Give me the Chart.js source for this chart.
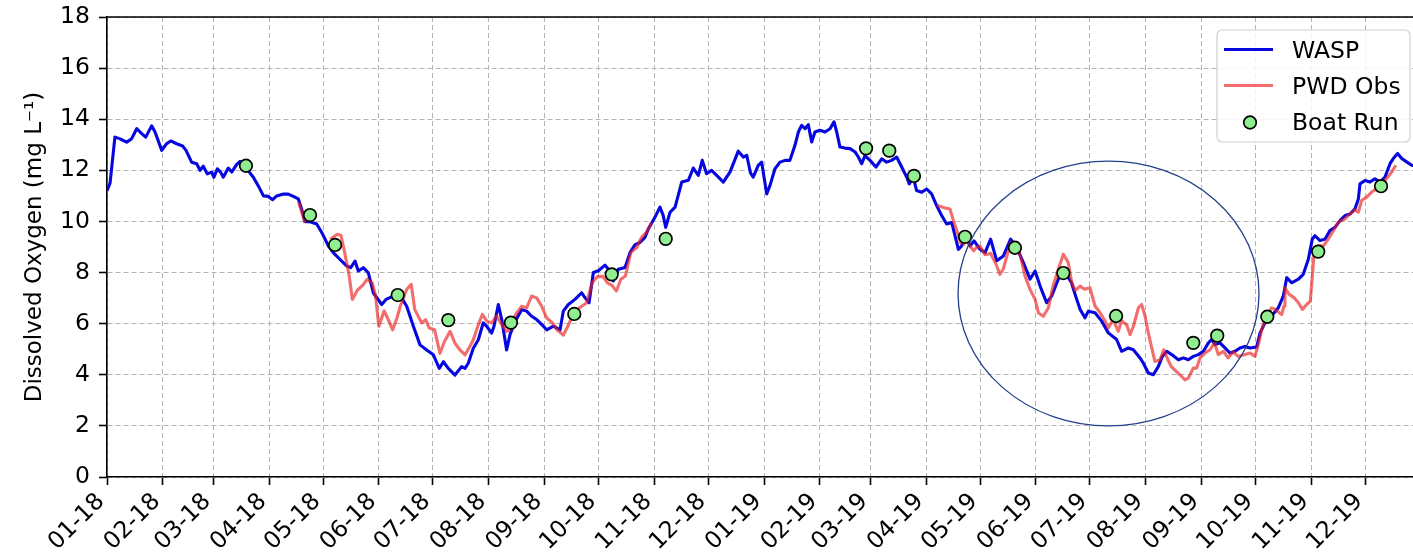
<!DOCTYPE html>
<html>
<head>
<meta charset="utf-8">
<title>Dissolved Oxygen 2018-2019</title>
<script src="https://cdn.jsdelivr.net/npm/chart.js@4/dist/chart.umd.min.js"></script>
<style>
  html, body { margin: 0; padding: 0; background: #ffffff; overflow: hidden; }
  #wrap { width: 1430px; height: 554px; }
</style>
</head>
<body>
<div id="wrap"><canvas id="c" width="1430" height="554"></canvas></div>
<script>
// x values are days counted from 1 Jan 2018
const monthDays = [0, 31, 59, 90, 120, 151, 181, 212, 243, 273, 304, 334,
                   365, 396, 424, 455, 485, 516, 546, 577, 608, 638, 669, 699];
const monthLabels = ['01-18', '02-18', '03-18', '04-18', '05-18', '06-18',
                     '07-18', '08-18', '09-18', '10-18', '11-18', '12-18',
                     '01-19', '02-19', '03-19', '04-19', '05-19', '06-19',
                     '07-19', '08-19', '09-19', '10-19', '11-19', '12-19'];
const yTicks = [0, 2, 4, 6, 8, 10, 12, 14, 16, 18];

// modelled dissolved oxygen (mg/L), [day, value]
const waspDO = [
  [0,11.2],[1.7,11.5],[4.4,13.3],[7,13.24],[10.9,13.1],[13.7,13.24],[16.5,13.63],[19.3,13.44],
  [21.5,13.3],[24.8,13.74],[26.7,13.5],[30.4,12.78],[33.1,13.04],[35.4,13.15],[38.7,13.04],
  [42,12.95],[43.9,12.78],[47,12.32],[49.8,12.26],[51.7,12.0],[53.5,12.16],[55.7,11.86],
  [58.1,11.93],[59.4,11.73],[61.3,12.06],[63.1,11.93],[64.6,11.73],[67.4,12.09],[69.3,11.93],
  [72,12.22],[73.9,12.35],[77.6,12.06],[81.3,11.73],[84,11.4],[86.9,11.0],[89.6,10.98],
  [92,10.85],[94.3,11.0],[98,11.07],[100.7,11.07],[103.5,10.98],[106.3,10.88],[108.1,10.49],
  [110,9.99],[112.8,9.99],[116.5,9.9],[119.3,9.57],[123,9.04],[125.7,8.78],[128.5,8.58],
  [133.1,8.26],[135.4,8.19],[137.8,8.45],[139.6,8.06],[142.4,8.19],[145.2,7.99],[148,7.2],
  [152.6,6.75],[155,6.95],[159,7.08],[163.7,7.01],[166.5,6.68],[170.2,5.9],[173.9,5.17],
  [177.6,4.97],[181.3,4.78],[184.6,4.25],[186.9,4.51],[189.6,4.25],[193.3,3.99],[197,4.32],
  [198.9,4.25],[200.7,4.45],[203.5,5.04],[206.3,5.37],[209,6.03],[210.9,5.9],[213.7,5.63],
  [215,5.9],[217.4,6.75],[219.3,6.16],[222,4.97],[223.9,5.57],[226.7,6.09],[230.4,6.55],
  [233.1,6.49],[235.9,6.29],[238.7,6.16],[242.4,5.9],[244.3,5.76],[248,5.9],[251.7,5.76],
  [253.5,6.49],[256.3,6.75],[260,6.95],[263.7,7.21],[265.5,7.02],[267.8,6.82],[270.2,8.0],
  [273,8.07],[276.7,8.29],[278.5,8.13],[281.3,7.67],[284.1,8.13],[287.8,8.2],[290.6,8.79],
  [293.3,9.08],[296.1,9.18],[298.9,9.38],[300.7,9.7],[304.4,10.16],[307.2,10.56],[309,10.23],
  [310.4,9.77],[312.8,10.36],[315.6,10.56],[319.3,11.54],[323,11.61],[325.7,12.09],[328.5,11.8],
  [330.7,12.39],[333.1,11.87],[335.9,12.0],[338.7,11.8],[342.4,11.54],[346.1,11.93],[350.7,12.75],
  [353.5,12.52],[355.4,12.59],[357.5,11.9],[359,11.73],[361.8,12.19],[363.7,12.32],[366.5,11.08],
  [368.3,11.4],[371.1,12.06],[373.9,12.32],[376.7,12.39],[379.4,12.39],[382.2,12.98],[384.1,13.5],
  [385.9,13.76],[387.8,13.63],[389.6,13.79],[391.5,13.11],[393.3,13.5],[396.1,13.57],[398.9,13.5],
  [401.7,13.63],[403.9,13.9],[405.4,13.5],[407.2,12.91],[410,12.87],[412.8,12.85],[415.6,12.72],
  [417.4,12.52],[419.3,12.26],[421.1,12.58],[423.9,12.39],[427.2,12.13],[430.4,12.45],[433.1,12.32],
  [435.9,12.39],[438.7,12.52],[441.5,12.13],[444.3,11.73],[445.7,11.47],[447.9,11.73],[449.8,11.21],
  [452.6,11.14],[455.4,11.27],[458.1,11.08],[460.9,10.62],[463.7,10.23],[466.5,9.9],[469.3,9.96],
  [471.1,9.44],[473,8.91],[474.8,9.04],[476.7,9.5],[479.4,9.04],[481.7,9.24],[485,8.91],
  [487.8,8.78],[490.9,9.31],[494.3,8.46],[498,8.65],[502,9.31],[505.4,8.98],[509.1,8.39],
  [512.8,7.74],[515.6,8.06],[518.4,7.47],[522,6.82],[524.8,7.08],[528.5,7.74],[531.3,8.06],
  [534.1,7.8],[535.8,7.6],[538.5,7.0],[540.6,6.56],[543.3,6.23],[545.2,6.49],[548.9,6.43],
  [552.6,6.1],[556.3,5.64],[560.9,5.38],[563.7,4.92],[567.4,5.05],[570.2,4.98],[573.9,4.66],
  [575.7,4.46],[578.5,4.07],[581.3,4.0],[584.1,4.33],[586.3,4.72],[588.7,4.92],[591.5,4.79],
  [595.2,4.59],[598,4.66],[600.7,4.59],[603.5,4.72],[606.3,4.79],[609.1,4.92],[611.9,5.25],
  [613.7,5.38],[615.6,5.18],[618.3,5.25],[621.1,5.05],[623.9,4.85],[626.7,4.92],[629.4,5.05],
  [632.2,5.11],[635,5.05],[638.7,5.09],[640.6,5.64],[643.3,6.03],[647,6.3],[650.7,6.62],
  [653.5,7.08],[655.4,7.8],[658.1,7.6],[661.9,7.74],[664.6,7.93],[667.4,8.52],[669.6,9.31],
  [671.1,9.44],[673.9,9.25],[676.7,9.31],[679.4,9.64],[682.2,9.77],[685,10.03],[687.8,10.23],
  [690.6,10.29],[693.3,10.49],[695.2,10.88],[696.1,11.47],[698.9,11.6],[701.7,11.54],[704.4,11.67],
  [707.2,11.54],[710,11.74],[712.8,12.26],[714.6,12.46],[717,12.66],[719.3,12.46],[722,12.33],
  [724.8,12.2],[729,12.15]
];

// PWD observed dissolved oxygen (mg/L), [day, value]; null marks a break in the record
const pwdDO = [
  [106.5,10.75],[108.5,10.3],[110,9.95],[112,null],
  [124,9.3],[128,9.5],[130,9.45],[132,8.8],[134.5,7.9],[136.3,6.95],[139,7.3],[142,7.5],
  [144.6,7.74],[147.3,7.6],[149.2,7.1],[151,5.9],[154,6.5],[156,6.2],[158.7,5.76],[161,6.2],
  [163,6.7],[166.5,7.34],[169,7.54],[171,6.55],[174.8,6.03],[177,6.16],[179,5.83],[182,5.76],
  [185,4.84],[187.5,5.3],[190.6,5.7],[193.3,5.24],[196.1,4.97],[198.9,4.78],[201.5,5.1],
  [203.5,5.37],[206,5.9],[208.5,6.36],[211,6.1],[213.7,6.03],[216.5,6.3],[219.3,5.96],[222,5.7],
  [224.5,5.8],[227,6.36],[230.4,6.68],[233.1,6.62],[235.9,7.08],[238.7,7.01],[241.5,6.68],
  [244.3,6.22],[247.5,6.03],[250,5.76],[253.5,5.55],[256,5.9],[259,6.35],[262.5,6.62],
  [266.5,6.82],[269.5,7.6],[272.4,7.84],[275.5,7.85],[278,7.6],[280.5,7.5],[283,7.28],
  [285.5,7.74],[288,7.87],[291,8.79],[294.3,8.98],[297,9.38],[300,9.6],[302.5,9.95],[380,null],
  [461,10.64],[464.5,10.55],[468.3,10.49],[470,10.09],[472.2,9.63],[474,9.18],[476,9.11],
  [477.5,9.37],[479.4,9.04],[481.5,8.85],[483,8.98],[485,9.04],[487.8,8.7],[490.9,8.75],
  [494.3,8.26],[496,7.93],[498,8.15],[502,9.18],[505.4,9.05],[507,8.78],[510,7.87],[512.8,7.34],
  [515.6,6.95],[517.5,6.42],[520.2,6.29],[523,6.62],[525.6,7.47],[528.5,8.13],[531.3,8.72],
  [534,8.39],[536,7.6],[538,7.3],[540.6,7.47],[543,7.35],[546.1,7.41],[548.9,6.69],[551.7,6.43],
  [554.5,6.1],[556.3,5.83],[559,6.16],[561.8,5.7],[563.7,6.1],[566.5,5.96],[568.4,5.57],
  [570.2,5.9],[573,6.62],[574.8,6.75],[576.7,6.3],[578.5,5.64],[580.4,5.05],[582.2,4.52],
  [585,4.59],[587.1,4.98],[589.4,4.59],[591.2,4.33],[593,4.2],[596.1,4.0],[598.9,3.8],
  [600.7,3.87],[603.5,4.26],[605.4,4.26],[607.2,4.66],[610,4.85],[612.8,4.98],[615.2,5.25],
  [617.4,4.79],[620.2,4.92],[622.8,4.66],[625.6,4.9],[628.4,4.72],[632.2,4.79],[635,4.85],
  [637.8,4.72],[639.6,5.18],[641.5,5.77],[644.3,6.3],[647,6.62],[648.9,6.56],[652.6,6.36],
  [653.9,6.69],[654.4,7.41],[656.7,7.15],[659.4,7.02],[661.9,6.82],[664.1,6.56],[666.5,6.75],
  [668.5,6.88],[669.8,8.0],[670.7,8.92],[673,9.05],[675.8,9.05],[678.5,9.31],[681.3,9.64],
  [684.1,9.97],[687.8,10.1],[690.6,10.3],[693.3,10.45],[695.2,10.36],[697,10.82],[699.8,10.95],
  [702.6,11.15],[705.4,11.28],[707.2,11.41],[710,11.6],[713.7,11.93],[716,12.2]
];

// boat run grab samples (mg/L), [day, value]
const boatRun = [
  [77.2,12.18],[112.8,10.25],[126.7,9.08],[161.5,7.12],[189.6,6.14],[224.4,6.04],[259.6,6.38],
  [280.4,7.93],[310.4,9.32],[421.7,12.86],[434.6,12.77],[448.3,11.78],[476.7,9.4],[504.4,8.97],
  [531.3,7.98],[560.6,6.3],[603.5,5.25],[616.8,5.53],[644.6,6.27],[672.9,8.82],[707.8,11.38]
];

// highlighted low-oxygen period, in axis units: centre day / value and half extents
const highlight = { day: 556.4, value: 7.18, halfDays: 83.6, halfValue: 5.18 };

const FONT = 'DejaVu Sans';
const toPoints = arr => arr.map(([x, y]) => ({ x, y }));

const BLUE = '#0606e0';
const RED = 'rgba(236, 30, 30, 0.65)';
const GREEN = '#90ee90';
const LINE_W = 3.1;

// frame line along the top of the plot area
const topSpine = {
  id: 'topSpine',
  afterDraw(chart) {
    const { ctx, chartArea } = chart;
    ctx.save();
    ctx.strokeStyle = '#000';
    ctx.lineWidth = 1.6;
    ctx.beginPath();
    ctx.moveTo(chartArea.left - 0.8, chartArea.top);
    ctx.lineTo(chartArea.right + 0.8, chartArea.top);
    ctx.stroke();
    ctx.restore();
  }
};

// ellipse around the summer 2019 period, placed through the scales
const highlightEllipse = {
  id: 'highlightEllipse',
  afterDatasetsDraw(chart) {
    const { ctx, scales: { x, y } } = chart;
    const cx = x.getPixelForValue(highlight.day);
    const cy = y.getPixelForValue(highlight.value);
    const rx = Math.abs(x.getPixelForValue(highlight.day + highlight.halfDays) - cx);
    const ry = Math.abs(y.getPixelForValue(highlight.value + highlight.halfValue) - cy);
    ctx.save();
    ctx.strokeStyle = '#233f8c';
    ctx.lineWidth = 1.3;
    ctx.beginPath();
    ctx.ellipse(cx, cy, rx, ry, 0, 0, Math.PI * 2);
    ctx.stroke();
    ctx.restore();
  }
};

// legend box in the upper right corner of the plot area
const cornerLegend = {
  id: 'cornerLegend',
  afterDraw(chart) {
    const { ctx, chartArea } = chart;
    const ds = chart.data.datasets;
    const entries = ['WASP', 'PWD Obs', 'Boat Run'].map(l => ds.find(d => d.label === l));
    const w = 193, h = 112;
    const left = chartArea.right - 11 - w;
    const top = chartArea.top + 13;
    ctx.save();
    ctx.beginPath();
    ctx.roundRect(left, top, w, h, 5);
    ctx.fillStyle = 'rgba(255,255,255,0.85)';
    ctx.fill();
    ctx.strokeStyle = '#d0d0d0';
    ctx.lineWidth = 1.2;
    ctx.stroke();
    ctx.font = '23.5px "' + FONT + '"';
    ctx.textBaseline = 'alphabetic';
    ctx.textAlign = 'left';
    entries.forEach((d, i) => {
      const cy = top + 19.5 + i * 36;
      if (d.showLine === false) {
        ctx.beginPath();
        ctx.arc(left + 33, cy + 1, d.pointRadius, 0, Math.PI * 2);
        ctx.fillStyle = d.pointBackgroundColor;
        ctx.fill();
        ctx.lineWidth = d.pointBorderWidth;
        ctx.strokeStyle = d.pointBorderColor;
        ctx.stroke();
      } else {
        ctx.beginPath();
        ctx.moveTo(left + 7, cy);
        ctx.lineTo(left + 56, cy);
        ctx.lineWidth = d.borderWidth;
        ctx.strokeStyle = d.borderColor;
        ctx.stroke();
      }
      ctx.fillStyle = '#000';
      ctx.fillText(d.label, left + 75, cy + 8.5);
    });
    ctx.restore();
  }
};

new Chart(document.getElementById('c'), {
  type: 'line',
  data: {
    datasets: [
      {
        label: 'WASP',
        data: toPoints(waspDO),
        borderColor: BLUE,
        backgroundColor: BLUE,
        borderWidth: LINE_W,
        borderJoinStyle: 'round',
        pointRadius: 0,
        tension: 0,
        order: 3
      },
      {
        label: 'PWD Obs',
        data: toPoints(pwdDO),
        borderColor: RED,
        backgroundColor: RED,
        borderWidth: LINE_W,
        borderJoinStyle: 'round',
        pointRadius: 0,
        tension: 0,
        spanGaps: false,
        order: 2
      },
      {
        label: 'Boat Run',
        data: toPoints(boatRun),
        showLine: false,
        pointRadius: 6.3,
        pointBackgroundColor: GREEN,
        pointBorderColor: '#000',
        pointBorderWidth: 1.7,
        order: 1
      }
    ]
  },
  options: {
    responsive: false,
    animation: false,
    events: [],
    layout: { padding: { left: 0, right: 9, top: 17, bottom: 0 } },
    plugins: {
      legend: { display: false },
      tooltip: { enabled: false }
    },
    scales: {
      x: {
        type: 'linear',
        min: 0,
        max: 730,
        afterBuildTicks: scale => { scale.ticks = monthDays.map(v => ({ value: v })); },
        afterFit: scale => {
          scale.height = 77;
          scale.paddingLeft = 0; scale.paddingRight = 0;
        },
        ticks: {
          autoSkip: false,
          maxRotation: 45,
          minRotation: 45,
          padding: 3,
          labelOffset: -6,
          color: '#000',
          font: { family: FONT, size: 23.5 },
          callback: value => monthLabels[monthDays.indexOf(value)]
        },
        grid: {
          color: '#b4b4b4',
          lineWidth: 1,
          tickLength: 8,
          tickColor: '#000',
          tickWidth: 1.6,
          tickBorderDash: []
        },
        border: { display: true, color: '#000', width: 1.6, dash: [5, 3] }
      },
      y: {
        type: 'linear',
        min: 0,
        max: 18,
        afterBuildTicks: scale => { scale.ticks = yTicks.map(v => ({ value: v })); },
        afterFit: scale => {
          scale.width = 107;
          scale.paddingTop = 0; scale.paddingBottom = 0;
        },
        ticks: {
          padding: 9,
          color: '#000',
          font: { family: FONT, size: 23.5 }
        },
        grid: {
          color: '#b4b4b4',
          lineWidth: 1,
          tickLength: 8,
          tickColor: '#000',
          tickWidth: 1.6,
          tickBorderDash: []
        },
        border: { display: true, color: '#000', width: 1.6, dash: [5, 3] },
        title: {
          display: true,
          text: 'Dissolved Oxygen (mg L\u207B\u00B9)',
          color: '#000',
          font: { family: FONT, size: 23 },
          padding: { top: 21, bottom: 0 }
        }
      }
    }
  },
  plugins: [topSpine, highlightEllipse, cornerLegend]
});
</script>
</body>
</html>
